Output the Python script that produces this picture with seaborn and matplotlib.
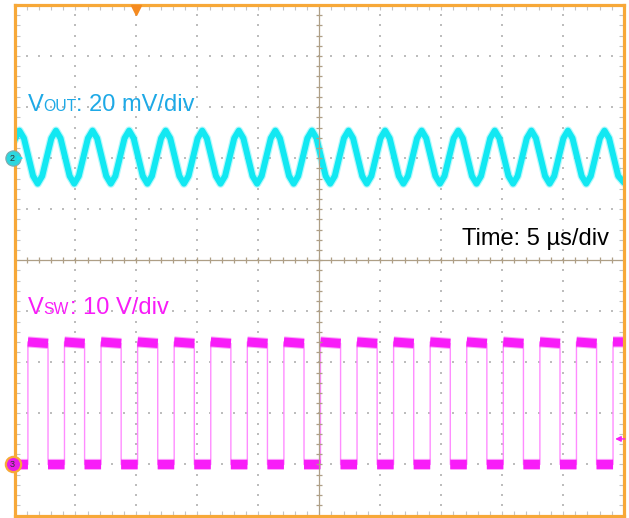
import numpy as np
import matplotlib
matplotlib.use("Agg")
import matplotlib.pyplot as plt
import seaborn as sns

# Scope settings (10 x 10 division screen)
time_per_div = 5.0      # us/div
vout_per_div = 20.0     # mV/div
vsw_per_div = 10.0      # V/div
vout_offset = 2.0       # div, channel 2 ground marker
vsw_offset = -4.0       # div, channel 3 ground marker

# Channel 2: output ripple, read roughly every 1/8 period (us, mV)
vout_t = [
    0.0,
    0.4, 0.775, 1.15, 1.525, 1.9, 2.275, 2.65, 3.025,
    3.4, 3.775, 4.15, 4.525, 4.9, 5.275, 5.65, 6.025,
    6.4, 6.775, 7.15, 7.525, 7.9, 8.275, 8.65, 9.025,
    9.4, 9.775, 10.15, 10.525, 10.9, 11.275, 11.65, 12.025,
    12.4, 12.775, 13.15, 13.525, 13.9, 14.275, 14.65, 15.025,
    15.4, 15.775, 16.15, 16.525, 16.9, 17.275, 17.65, 18.025,
    18.4, 18.775, 19.15, 19.525, 19.9, 20.275, 20.65, 21.025,
    21.4, 21.775, 22.15, 22.525, 22.9, 23.275, 23.65, 24.025,
    24.4, 24.775, 25.15, 25.525, 25.9, 26.275, 26.65, 27.025,
    27.4, 27.775, 28.15, 28.525, 28.9, 29.275, 29.65, 30.025,
    30.4, 30.775, 31.15, 31.525, 31.9, 32.275, 32.65, 33.025,
    33.4, 33.775, 34.15, 34.525, 34.9, 35.275, 35.65, 36.025,
    36.4, 36.775, 37.15, 37.525, 37.9, 38.275, 38.65, 39.025,
    39.4, 39.775, 40.15, 40.525, 40.9, 41.275, 41.65, 42.025,
    42.4, 42.775, 43.15, 43.525, 43.9, 44.275, 44.65, 45.025,
    45.4, 45.775, 46.15, 46.525, 46.9, 47.275, 47.65, 48.025,
    48.4, 48.775, 49.15, 49.525, 50.0,
]
vout_mv = [
    7.0,
    10.8, 7.8, 0.4, -7.0, -10.0, -7.0, 0.4, 7.8,
    10.8, 7.8, 0.4, -7.0, -10.0, -7.0, 0.4, 7.8,
    10.8, 7.8, 0.4, -7.0, -10.0, -7.0, 0.4, 7.8,
    10.8, 7.8, 0.4, -7.0, -10.0, -7.0, 0.4, 7.8,
    10.8, 7.8, 0.4, -7.0, -10.0, -7.0, 0.4, 7.8,
    10.8, 7.8, 0.4, -7.0, -10.0, -7.0, 0.4, 7.8,
    10.8, 7.8, 0.4, -7.0, -10.0, -7.0, 0.4, 7.8,
    10.8, 7.8, 0.4, -7.0, -10.0, -7.0, 0.4, 7.8,
    10.8, 7.8, 0.4, -7.0, -10.0, -7.0, 0.4, 7.8,
    10.8, 7.8, 0.4, -7.0, -10.0, -7.0, 0.4, 7.8,
    10.8, 7.8, 0.4, -7.0, -10.0, -7.0, 0.4, 7.8,
    10.8, 7.8, 0.4, -7.0, -10.0, -7.0, 0.4, 7.8,
    10.8, 7.8, 0.4, -7.0, -10.0, -7.0, 0.4, 7.8,
    10.8, 7.8, 0.4, -7.0, -10.0, -7.0, 0.4, 7.8,
    10.8, 7.8, 0.4, -7.0, -10.0, -7.0, 0.4, 7.8,
    10.8, 7.8, 0.4, -7.0, -10.0, -7.0, 0.4, 7.8,
    10.8, 7.8, 0.4, -7.0, -9.6,
]

# Channel 3: switch node, edge times (us) and levels (V)
vsw_rise = [1.1, 4.1, 7.1, 10.1, 13.1, 16.1, 19.1, 22.1, 25.1,
            28.1, 31.1, 34.1, 37.1, 40.1, 43.1, 46.1, 49.1]
vsw_fall = [2.75, 5.75, 8.75, 11.75, 14.75, 17.75, 20.75, 23.75,
            26.75, 29.75, 32.75, 35.75, 38.75, 41.75, 44.75, 47.75]
vsw_high_start = 24.0
vsw_high_end = 23.7
vsw_low = 0.0

trigger_time = 10.0     # us
trigger_level = 5.0     # V

W, H = 629, 518
ORANGE = "#F7A838"
CYAN = "#12E8F2"
CYAN_TXT = "#1EA9E6"
MAGENTA = "#F81CF8"
MAG_EDGE = "#FF8CFF"
GRAT = "#AE9F86"

sns.set_style("white")
plt.rcParams["font.family"] = ["Liberation Sans", "DejaVu Sans"]

fig = plt.figure(figsize=(W / 100, H / 100), dpi=100)
ax = fig.add_axes([14.5 / W, 2.5 / H, 609.5 / W, 510.5 / H])
ax.set_xlim(0, 50)
ax.set_ylim(-5, 5)


def fx(px):
    return px / W


def fy(py):
    return 1 - py / H


# dotted graticule
gx, gy = [], []
for d in [-4, -3, -2, -1, 1, 2, 3, 4]:
    for t in np.arange(1, 50, 1.0):
        gx.append(t)
        gy.append(d)
for t in [5, 10, 15, 20, 30, 35, 40, 45]:
    for d in np.arange(-4.8, 5, 0.2):
        gx.append(t)
        gy.append(d)
ax.scatter(gx, gy, s=1.3, color="#BDBDBD", marker="s", linewidths=0, zorder=1)

# switch node trace
sx, sy = [0.0], [vsw_low]
px_, py_ = [0.0], [vsw_low]
for i, r in enumerate(vsw_rise):
    sx += [r, r]
    sy += [vsw_low, vsw_high_start]
    px_ += [r, np.nan, r]
    py_ += [vsw_low, np.nan, vsw_high_start]
    if i < len(vsw_fall):
        f = vsw_fall[i]
        sx += [f, f]
        sy += [vsw_high_end, vsw_low]
        px_ += [f, np.nan, f]
        py_ += [vsw_high_end, np.nan, vsw_low]
    else:
        sx.append(50.0)
        sy.append(vsw_high_start)
        px_.append(50.0)
        py_.append(vsw_high_start)
sy_div = [vsw_offset + v / vsw_per_div for v in sy]
py_div = [vsw_offset + v / vsw_per_div for v in py_]
sns.lineplot(x=sx, y=sy_div, ax=ax, sort=False, estimator=None,
             color=MAG_EDGE, linewidth=1.0, zorder=3)
ax.plot(px_, py_div, color=MAGENTA, linewidth=8.0, alpha=0.4,
        solid_capstyle="butt", zorder=4)
ax.plot(px_, py_div, color=MAGENTA, linewidth=6.5, solid_capstyle="butt", zorder=4)

# output ripple trace
vy = [vout_offset + v / vout_per_div for v in vout_mv]
ax.plot(vout_t, vy, color=CYAN, linewidth=6.0, alpha=0.3, zorder=4)
sns.lineplot(x=vout_t, y=vy, ax=ax, sort=False, estimator=None,
             color=CYAN, linewidth=4.3, zorder=5)

# center cross with ticks
ax.axvline(25, color=GRAT, lw=0.9, zorder=6)
ax.axhline(0, color=GRAT, lw=0.9, zorder=6)
ax.plot(np.full(49, 25.0), np.arange(-4.8, 4.81, 0.2), ls="none", marker="_",
        ms=4.5, mew=0.9, color=GRAT, zorder=6)
ax.plot(np.arange(1, 50, 1.0), np.zeros(49), ls="none", marker="|",
        ms=4.5, mew=0.9, color=GRAT, zorder=6)

# frame
for s in ax.spines.values():
    s.set_color(ORANGE)
    s.set_linewidth(2.3)
    s.set_zorder(10)
ax.set_xticks(np.arange(0, 50.01, 1.0))
ax.set_yticks(np.arange(-5, 5.01, 0.2))
ax.tick_params(direction="in", length=3.5, width=0.8, color="#C4C4C4",
               top=True, right=True, bottom=True, left=True,
               labelbottom=False, labelleft=False)
ax.set_xlabel("")
ax.set_ylabel("")

# markers
ax.plot(trigger_time, 4.91, marker="v", ms=6.5, color="#F58A1F", clip_on=False, zorder=11)
ax.plot(-0.16, vout_offset, marker="o", ms=11, mfc="#2DD6DE", mec="#7FA9AC",
        mew=0.8, clip_on=False, zorder=12)
ax.text(-0.16, vout_offset, "2", ha="center", va="center", fontsize=6.5,
        color="#333333", zorder=13, clip_on=False)
ax.annotate("", xy=(0.85, vout_offset), xytext=(0.35, vout_offset),
            arrowprops=dict(arrowstyle="-|>", color=CYAN, lw=1.0,
                            mutation_scale=6), zorder=12)
ax.plot(-0.16, vsw_offset, marker="o", ms=11, mfc="#E81CE8", mec=ORANGE,
        mew=1.6, clip_on=False, zorder=12)
ax.text(-0.16, vsw_offset, "3", ha="center", va="center", fontsize=6.5,
        color="#333333", zorder=13, clip_on=False)
trig_y = vsw_offset + trigger_level / vsw_per_div
ax.annotate("", xy=(49.05, trig_y), xytext=(50.3, trig_y),
            arrowprops=dict(arrowstyle="-|>", color=MAGENTA, lw=1.0,
                            mutation_scale=8), zorder=12, annotation_clip=False)

# labels
fs_big, fs_small = 17, 11.3
fig.text(fx(28), fy(111), "V", fontsize=fs_big, color=CYAN_TXT, va="baseline")
fig.text(fx(43.7), fy(111), "OUT", fontsize=fs_small, color=CYAN_TXT, va="baseline")
fig.text(fx(76.5), fy(111), ": 20 mV/div", fontsize=fs_big, color=CYAN_TXT, va="baseline")
fig.text(fx(28), fy(314), "V", fontsize=fs_big, color=MAGENTA, va="baseline")
fig.text(fx(43.7), fy(314), "SW", fontsize=fs_small, color=MAGENTA, va="baseline")
fig.text(fx(69.5), fy(314), ": 10 V/div", fontsize=fs_big, color=MAGENTA, va="baseline")
fig.text(fx(608.5), fy(245.5), "Time: 5 µs/div", fontsize=fs_big, color="black",
         va="baseline", ha="right")

fig.savefig("out.png", dpi=100)
